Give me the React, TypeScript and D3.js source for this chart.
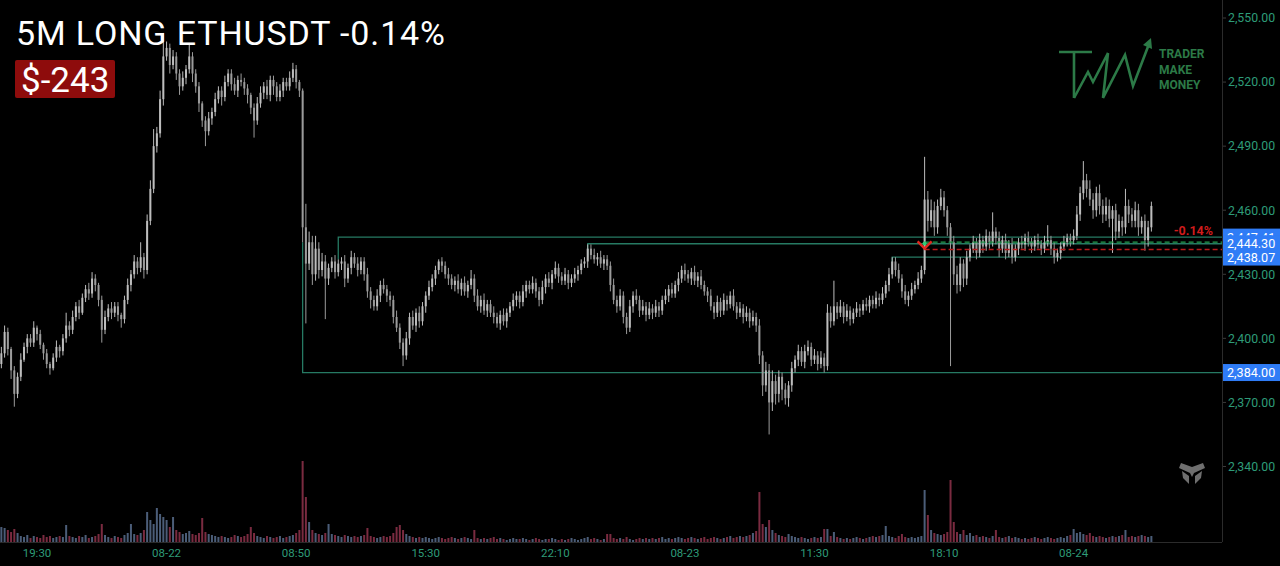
import React from 'react';
import * as d3 from 'd3';

// 10-minute bars, ETHUSDT
const firstOpen = 2388;
const closes = [
  2393, 2403, 2395, 2385, 2374, 2382, 2390, 2396, 2400, 2398, 2405, 2402, 2397, 2393, 2388, 2386, 2391, 2396, 2394, 2400,
  2406, 2404, 2410, 2415, 2412, 2419, 2423, 2421, 2428, 2425, 2418, 2404, 2410, 2414, 2412, 2415, 2411, 2409, 2418, 2425,
  2430, 2436, 2433, 2438, 2432, 2455, 2470, 2490, 2496, 2512, 2532, 2536, 2528, 2532, 2524, 2518, 2522, 2526, 2532, 2524,
  2518, 2510, 2502, 2497, 2503, 2506, 2512, 2516, 2513, 2520, 2524, 2519, 2516, 2521, 2520, 2517, 2514, 2508, 2502, 2510,
  2515, 2518, 2514, 2521, 2518, 2513, 2516, 2520, 2518, 2522, 2526, 2520, 2516, 2452, 2435, 2445, 2430, 2442, 2432, 2436,
  2428, 2433, 2436, 2431, 2435, 2436, 2428, 2433, 2438, 2435, 2432, 2436, 2430, 2422, 2418, 2415, 2420, 2425, 2423, 2420,
  2418, 2410, 2405, 2398, 2392, 2400, 2410, 2406, 2412, 2408, 2415, 2420, 2424, 2428, 2432, 2436, 2434, 2430, 2428, 2425,
  2427, 2423, 2426, 2422, 2425, 2428, 2420, 2415, 2418, 2413, 2416, 2412, 2410, 2407, 2411, 2408, 2412, 2415, 2418, 2420,
  2417, 2422, 2425, 2423, 2426, 2422, 2418, 2424, 2428, 2426, 2430, 2433, 2429, 2427, 2430, 2426, 2428, 2430, 2432, 2435,
  2436, 2442, 2439, 2437, 2438, 2435, 2437, 2434, 2425, 2418, 2415, 2420, 2410, 2405, 2415, 2420, 2418, 2413, 2415, 2411,
  2414, 2412, 2415, 2413, 2418, 2420, 2423, 2421, 2425, 2428, 2432, 2430, 2428, 2431, 2427, 2429, 2425, 2422, 2420, 2415,
  2412, 2417, 2413, 2418, 2416, 2420, 2415, 2412, 2414, 2410, 2412, 2408, 2410, 2406, 2392, 2378, 2385, 2370, 2380, 2374,
  2382, 2376, 2372, 2378, 2386, 2390, 2394, 2389, 2394, 2396, 2390, 2392, 2388, 2391, 2387, 2412, 2408, 2415, 2412, 2415,
  2410, 2413, 2409, 2412, 2414, 2413, 2416, 2415, 2418, 2416, 2419, 2418, 2421, 2425, 2430, 2436, 2432, 2428, 2422, 2418,
  2420, 2423, 2425, 2428, 2432, 2465, 2455, 2460, 2452, 2462, 2466, 2460, 2452, 2445, 2430, 2425, 2435, 2428, 2438, 2442,
  2445, 2440, 2446, 2443, 2448, 2445, 2450, 2447, 2442, 2446, 2440, 2444, 2438, 2442, 2445, 2444, 2447, 2445, 2443, 2446,
  2444, 2442, 2445, 2446, 2442, 2438, 2440, 2443, 2445, 2447, 2446, 2448, 2458, 2468, 2474, 2470, 2465, 2460, 2468, 2462,
  2458, 2462, 2456, 2460, 2450, 2455, 2452, 2462, 2458, 2455, 2460, 2452, 2455, 2446, 2452, 2462,
];
// upper / lower wick beyond the body, in price units
const wickUp = [
  3, 3, 2, 1, 2, 2, 3, 2, 2, 2, 3, 1, 2, 1, 2, 1, 2, 3, 1, 2,
  6, 2, 3, 2, 3, 2, 2, 3, 3, 2, 1, 2, 3, 2, 3, 2, 2, 1, 2, 3,
  2, 3, 2, 7, 2, 3, 4, 8, 3, 4, 11, 3, 2, 3, 2, 2, 3, 2, 6, 2,
  2, 2, 1, 2, 3, 2, 3, 2, 2, 3, 2, 2, 3, 2, 3, 2, 2, 1, 2, 3,
  3, 2, 3, 2, 2, 2, 3, 2, 2, 3, 3, 2, 1, 1, 11, 5, 3, 6, 3, 4,
  3, 2, 2, 3, 2, 2, 3, 2, 3, 2, 3, 2, 2, 3, 2, 2, 3, 2, 3, 2,
  2, 2, 3, 2, 2, 3, 2, 3, 2, 3, 2, 2, 3, 2, 2, 1, 2, 2, 3, 2,
  2, 3, 2, 3, 2, 4, 2, 3, 2, 3, 2, 2, 3, 2, 2, 3, 2, 2, 3, 2,
  2, 3, 2, 2, 3, 2, 2, 3, 2, 3, 2, 3, 2, 2, 3, 2, 2, 3, 2, 2,
  2, 2, 2, 3, 2, 3, 2, 2, 2, 3, 2, 3, 2, 2, 3, 2, 3, 2, 3, 2,
  3, 2, 3, 2, 2, 3, 2, 3, 2, 3, 2, 3, 2, 2, 3, 2, 3, 2, 2, 3,
  2, 3, 2, 3, 2, 2, 3, 2, 3, 2, 3, 2, 3, 2, 3, 2, 4, 3, 5, 3,
  3, 2, 3, 2, 3, 2, 3, 2, 3, 3, 2, 3, 2, 3, 2, 4, 3, 12, 2, 3,
  2, 3, 2, 2, 3, 2, 2, 3, 2, 2, 3, 2, 3, 2, 3, 2, 2, 3, 2, 3,
  2, 3, 2, 3, 2, 20, 4, 5, 4, 3, 4, 3, 2, 2, 3, 4, 3, 2, 3, 2,
  3, 2, 3, 2, 3, 2, 9, 2, 3, 2, 3, 2, 3, 2, 2, 3, 2, 3, 2, 2,
  3, 2, 3, 7, 2, 3, 2, 2, 3, 2, 2, 3, 4, 3, 9, 3, 4, 3, 3, 4,
  3, 4, 3, 2, 3, 3, 2, 8, 3, 3, 4, 3, 2, 3, 3, 2,
];
const wickDown = [
  2, 2, 3, 4, 6, 2, 2, 1, 3, 2, 2, 3, 2, 3, 2, 3, 1, 2, 3, 2,
  2, 3, 2, 2, 3, 1, 2, 3, 2, 3, 3, 6, 2, 2, 3, 2, 3, 4, 2, 2,
  3, 2, 3, 2, 4, 2, 2, 2, 3, 2, 3, 2, 4, 2, 3, 4, 2, 3, 2, 4,
  3, 4, 3, 7, 2, 3, 2, 2, 4, 2, 2, 3, 2, 3, 2, 3, 4, 3, 8, 2,
  2, 3, 2, 3, 4, 2, 2, 3, 2, 2, 2, 3, 3, 7, 28, 3, 5, 3, 4, 3,
  19, 3, 2, 3, 2, 3, 4, 2, 3, 2, 3, 2, 3, 3, 4, 2, 2, 3, 2, 3,
  3, 3, 2, 3, 5, 2, 3, 2, 3, 3, 2, 3, 2, 2, 3, 2, 3, 2, 3, 2,
  3, 2, 3, 2, 3, 2, 3, 2, 3, 2, 3, 2, 3, 2, 3, 2, 3, 2, 2, 3,
  3, 2, 3, 2, 2, 3, 3, 2, 3, 2, 3, 2, 3, 2, 2, 3, 2, 2, 3, 2,
  2, 3, 2, 2, 3, 2, 3, 2, 3, 2, 3, 2, 3, 3, 2, 3, 2, 3, 2, 3,
  2, 3, 2, 3, 2, 2, 3, 2, 2, 3, 2, 3, 2, 3, 2, 3, 2, 2, 3, 2,
  3, 2, 3, 2, 3, 2, 2, 3, 2, 3, 2, 3, 2, 3, 4, 5, 3, 15, 4, 5,
  4, 5, 3, 4, 3, 2, 3, 2, 3, 2, 3, 2, 3, 2, 3, 2, 3, 2, 3, 2,
  3, 2, 3, 2, 2, 3, 2, 2, 3, 2, 2, 3, 2, 2, 3, 2, 3, 2, 3, 2,
  3, 2, 2, 2, 2, 2, 5, 3, 4, 3, 2, 3, 4, 58, 5, 4, 3, 4, 3, 2,
  2, 3, 2, 3, 2, 3, 2, 3, 4, 2, 3, 2, 3, 2, 3, 2, 3, 2, 3, 2,
  2, 3, 2, 2, 3, 3, 2, 3, 2, 2, 3, 2, 2, 3, 3, 4, 3, 4, 3, 4,
  4, 3, 4, 16, 4, 3, 4, 3, 4, 3, 3, 4, 3, 5, 3, 2,
];
const volumes = [
  15, 14, 12, 10, 13, 9, 6, 5, 7, 4, 6, 5, 4, 7, 5, 6, 4, 5, 6, 5,
  17, 6, 5, 4, 6, 5, 7, 4, 5, 6, 8, 18, 7, 5, 4, 6, 5, 4, 7, 9,
  18, 8, 7, 9, 12, 30, 22, 18, 34, 28, 25, 22, 15, 25, 12, 10, 8, 9, 11, 8,
  7, 9, 24, 10, 8, 7, 6, 5, 6, 5, 4, 5, 7, 6, 5, 6, 8, 15, 9, 6,
  5, 4, 6, 5, 4, 5, 6, 4, 5, 6, 7, 9, 12, 81, 45, 20, 12, 9, 8, 7,
  9, 18, 8, 7, 6, 5, 7, 6, 5, 6, 5, 6, 7, 14, 6, 5, 4, 5, 6, 5,
  6, 9, 15, 17, 12, 8, 6, 5, 4, 5, 4, 5, 4, 3, 4, 5, 4, 3, 4, 5,
  4, 3, 4, 5, 4, 3, 12, 4, 3, 4, 3, 4, 5, 3, 4, 3, 2, 3, 4, 3,
  3, 4, 3, 2, 3, 4, 3, 2, 3, 3, 4, 3, 2, 3, 2, 3, 4, 3, 2, 3,
  4, 5, 3, 4, 3, 2, 3, 8, 8, 4, 3, 4, 3, 5, 3, 2, 3, 4, 3, 4,
  3, 4, 3, 4, 5, 3, 4, 3, 4, 5, 4, 3, 4, 5, 4, 3, 4, 5, 3, 4,
  5, 4, 3, 4, 5, 6, 4, 5, 6, 5, 6, 7, 9, 11, 50, 18, 15, 22, 12, 9,
  7, 6, 5, 8, 6, 5, 4, 5, 4, 3, 4, 5, 4, 5, 13, 13, 6, 10, 5, 4,
  3, 4, 3, 4, 5, 4, 3, 4, 5, 6, 5, 6, 7, 16, 6, 5, 4, 6, 8, 5,
  4, 5, 4, 5, 6, 52, 27, 12, 9, 8, 7, 8, 10, 62, 20, 10, 8, 12, 7, 9,
  6, 7, 5, 6, 5, 4, 6, 12, 5, 4, 5, 6, 4, 5, 4, 3, 4, 3, 4, 5,
  4, 3, 4, 5, 4, 3, 4, 5, 4, 6, 7, 13, 9, 10, 8, 7, 9, 6, 5, 6,
  5, 4, 5, 6, 5, 6, 7, 12, 5, 6, 5, 6, 7, 6, 5, 6,
];

const timeTickBars = [11, 51, 91, 131, 171, 211, 251, 291, 331];
const timeTickLabels = ['19:30', '08-22', '08:50', '15:30', '22:10', '08-23', '11:30', '18:10', '08-24'];
const priceTicks = [2340, 2370, 2400, 2430, 2460, 2490, 2520, 2550];

// horizontal levels: price, bar where it starts, price the short vertical reaches
const levelPrices = [2384.0, 2447.41, 2444.3, 2438.07];
const levelStartBars = [93, 104, 181, 275];
const levelAnchors = [2445, 2437, 2438, 2432];
// order the axis boxes are stacked in (last on top)
const boxPrices = [2447.41, 2438.07, 2444.3, 2384.0];

const entryBar = 285;
const entryPrice = 2445.1;
const lastPrice = 2441.6;
const pnlPct = '-0.14%';
const title = '5M LONG ETHUSDT -0.14%';
const pnlUsd = '$-243';

const W = 1280;
const H = 566;
const plotRight = 1222;
const volBase = 542;
const FONT = "Roboto, 'Noto Sans', 'DejaVu Sans', sans-serif";

export default function App() {
  const x = d3.scaleLinear().domain([-0.42, 376.8]).range([0, plotRight]);
  const y = d3.scaleLinear().domain([2340, 2550]).range([466.5, 18]);
  const yv = d3.scaleLinear().domain([0, 100]).range([volBase, volBase - 100]);
  const fmt = d3.format(',.2f');

  const bars = closes.map((c, i) => {
    const o = i === 0 ? firstOpen : closes[i - 1];
    const hi = Math.max(o, c) + wickUp[i];
    const lo = Math.min(o, c) - wickDown[i];
    return { i, o, c, hi, lo, up: c >= o };
  });

  const bodyW = 2;
  const ex = x(entryBar);
  const ey = y(2443.5);

  return (
    <div style={{ position: 'fixed', left: 0, top: 0, width: W, height: H, background: '#000' }}>
      <svg width={W} height={H} style={{ display: 'block', fontFamily: FONT }}>
        <defs>
          <clipPath id="axisClip">
            <rect x={plotRight + 1} y={0} width={W - plotRight} height={H} />
          </clipPath>
        </defs>
        <rect width={W} height={H} fill="#000" />

        {/* volume */}
        <g>
          {bars.map((b) => (
            <rect
              key={'v' + b.i}
              x={x(b.i) - bodyW / 2}
              y={yv(volumes[b.i])}
              width={bodyW}
              height={volBase - yv(volumes[b.i])}
              fill={b.up ? '#4b5d78' : '#7a2b40'}
            />
          ))}
        </g>

        {/* levels */}
        <g stroke="#267a63" strokeWidth={1.3} fill="none">
          {levelPrices.map((p, k) => {
            const x0 = x(levelStartBars[k]);
            return (
              <path
                key={'l' + k}
                d={`M${x0},${y(levelAnchors[k])}V${y(p)}H${plotRight}`}
              />
            );
          })}
        </g>

        {/* candles */}
        <g>
          {bars.map((b) => {
            const col = b.up ? '#bdbdbd' : '#9b9b9b';
            const top = y(Math.max(b.o, b.c));
            const bot = y(Math.min(b.o, b.c));
            return (
              <g key={'c' + b.i}>
                <line x1={x(b.i)} x2={x(b.i)} y1={y(b.hi)} y2={y(b.lo)} stroke={col} strokeWidth={1} />
                <rect x={x(b.i) - bodyW / 2} y={top} width={bodyW} height={Math.max(1, bot - top)} fill={col} />
              </g>
            );
          })}
        </g>

        {/* entry / current price */}
        <line x1={ex} x2={plotRight} y1={y(entryPrice)} y2={y(entryPrice)} stroke="#23a04f" strokeWidth={1.3} strokeDasharray="5 3" />
        <line x1={ex} x2={plotRight} y1={y(lastPrice)} y2={y(lastPrice)} stroke="#b71c1c" strokeWidth={1.3} strokeDasharray="5 3" />
        <path d={`M${ex - 7},${ey - 4}L${ex},${ey + 3}L${ex + 7},${ey - 4}`} stroke="#e0281f" strokeWidth={2.4} fill="none" />
        <circle cx={ex} cy={ey - 2} r={2} fill="#2ecc71" />
        <text x={1213} y={235} textAnchor="end" fill="#d01c1c" fontSize={12.5} fontWeight={700}>
          {pnlPct}
        </text>

        {/* frame */}
        <line x1={plotRight + 0.5} x2={plotRight + 0.5} y1={0} y2={volBase} stroke="#2b2b2b" />
        <line x1={0} x2={plotRight} y1={volBase + 0.5} y2={volBase + 0.5} stroke="#2b2b2b" />

        {/* price axis */}
        <g fontSize={12.3} fill="#2e9b78">
          {priceTicks.map((p) => (
            <g key={'p' + p}>
              <line x1={plotRight + 1} x2={plotRight + 4} y1={y(p)} y2={y(p)} stroke="#3a3a3a" />
              <text x={1228} y={y(p) + 4.3}>{fmt(p)}</text>
            </g>
          ))}
        </g>
        <g clipPath="url(#axisClip)">
          {boxPrices.map((p) => (
            <g key={'b' + p}>
              <rect x={plotRight + 1} y={y(p) - 8.5} width={W - plotRight - 1} height={17} fill="#2f7cf6" />
              <text x={1227} y={y(p) + 4.5} fill="#fff" fontSize={12.6}>
                {fmt(p)}
              </text>
            </g>
          ))}
        </g>

        {/* time axis */}
        <g fontSize={11.5} fill="#2e9b78" textAnchor="middle">
          {timeTickBars.map((t, k) => (
            <text key={'t' + t} x={x(t)} y={557}>
              {timeTickLabels[k]}
            </text>
          ))}
        </g>

        {/* title */}
        <text x={16} y={45} fill="#fff" fontSize={34} textLength={429} lengthAdjust="spacing">
          {title}
        </text>
        <rect x={15} y={60} width={100} height={38} rx={2} fill="#8e0c0c" />
        <text x={21} y={92} fill="#fff" fontSize={35}>
          {pnlUsd}
        </text>

        {/* TMM logo */}
        <g stroke="#2c7a47" strokeWidth={2.6} fill="none" strokeLinejoin="miter">
          <path d="M1059,52H1092M1074,52V98" />
          <path d="M1074,98L1088,72L1093,82L1108,53L1103,98L1125,55L1133,86L1149,44" />
        </g>
        <path d="M1143,45L1151,38L1152,49Z" fill="#2c7a47" />
        <g fill="#2c7a47" fontSize={12} fontWeight={700}>
          <text x={1159} y={58}>TRADER</text>
          <text x={1159} y={74}>MAKE</text>
          <text x={1159} y={89}>MONEY</text>
        </g>

        {/* bottom-right mark */}
        <g fill="#6f6f6f">
          <path d="M1181,463L1192,467L1203,463L1205,468L1194,473L1192,477L1190,473L1179,468Z" />
          <path d="M1182,471L1189,476L1189,484L1183,478Z" />
          <path d="M1202,471L1195,476L1195,484L1201,478Z" />
        </g>
      </svg>
    </div>
  );
}
